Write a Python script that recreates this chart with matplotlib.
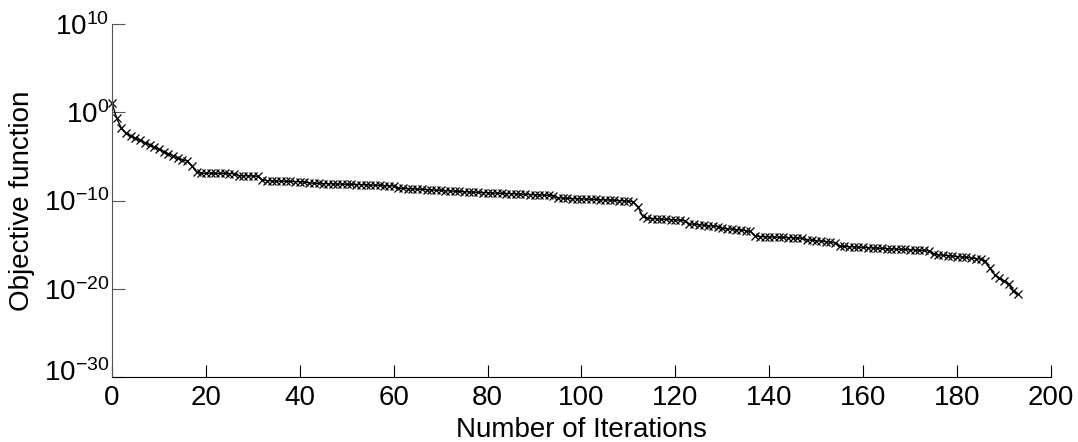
import numpy as np
import matplotlib
matplotlib.use("Agg")
import matplotlib.pyplot as plt
from matplotlib.transforms import ScaledTranslation

# log10 of the objective function, one per iteration
log_obj = [
    1.05, -0.7, -1.8, -2.4, -2.7, -2.95, -3.2, -3.45, -3.7, -3.95,
    -4.2, -4.45, -4.7, -4.95, -5.2, -5.4, -5.5, -6.05, -6.75, -6.9,
    -6.9, -6.9, -6.92, -6.93, -6.93, -6.95, -6.96, -7.18, -7.2, -7.2,
    -7.22, -7.25, -7.65, -7.75, -7.78, -7.8, -7.8, -7.82, -7.83, -7.85,
    -7.87, -7.9, -8.0, -8.05, -8.07, -8.08, -8.1, -8.11, -8.13, -8.14,
    -8.16, -8.17, -8.19, -8.2, -8.22, -8.24, -8.26, -8.28, -8.3, -8.32,
    -8.35, -8.6, -8.62, -8.65, -8.68, -8.71, -8.74, -8.77, -8.8, -8.83,
    -8.86, -8.89, -8.92, -8.95, -8.97, -9.0, -9.03, -9.06, -9.08, -9.1,
    -9.13, -9.15, -9.17, -9.19, -9.21, -9.23, -9.25, -9.27, -9.3, -9.32,
    -9.34, -9.36, -9.38, -9.41, -9.44, -9.7, -9.74, -9.76, -9.78, -9.8,
    -9.82, -9.84, -9.86, -9.88, -9.9, -9.92, -9.95, -9.98, -10.0, -10.03,
    -10.07, -10.15, -10.7, -11.75, -12.0, -12.05, -12.08, -12.1, -12.13, -12.17,
    -12.2, -12.23, -12.3, -12.65, -12.7, -12.75, -12.8, -12.85, -12.9, -12.95,
    -13.15, -13.2, -13.25, -13.3, -13.35, -13.42, -13.5, -14.0, -14.08, -14.1,
    -14.12, -14.15, -14.17, -14.19, -14.21, -14.23, -14.25, -14.28, -14.45, -14.5,
    -14.55, -14.6, -14.65, -14.72, -14.8, -15.15, -15.2, -15.23, -15.26, -15.29,
    -15.32, -15.35, -15.38, -15.4, -15.43, -15.46, -15.48, -15.5, -15.52, -15.55,
    -15.58, -15.6, -15.63, -15.66, -15.7, -16.1, -16.15, -16.2, -16.25, -16.3,
    -16.35, -16.4, -16.45, -16.5, -16.58, -16.66, -16.9, -17.7, -18.4, -18.8,
    -19.1, -19.5, -20.2, -20.6,
]
iterations = list(range(len(log_obj)))
x_ticks = [0, 20, 40, 60, 80, 100, 120, 140, 160, 180, 200]
y_ticks = [1e-30, 1e-20, 1e-10, 1e0, 1e10]

plt.rcParams['font.family'] = ['Liberation Sans', 'DejaVu Sans']
plt.rcParams['mathtext.fontset'] = 'custom'
plt.rcParams['mathtext.rm'] = 'Liberation Sans'
plt.rcParams['mathtext.it'] = 'Liberation Sans'

fig = plt.figure(figsize=(10.78, 4.42), dpi=100)
ax = fig.add_axes([0.1039, 0.147, 0.871, 0.7987])

obj = 10.0 ** np.array(log_obj)
ax.semilogy(iterations, obj, color='black', linewidth=1.0, marker='x',
            markersize=6, markeredgewidth=0.9, clip_on=False)

ax.set_xlim(0, 200)
ax.set_ylim(1e-30, 1e10)
ax.set_xticks(x_ticks)
ax.set_yticks(y_ticks)
ax.yaxis.set_minor_locator(matplotlib.ticker.NullLocator())

ax.spines['top'].set_visible(False)
ax.spines['right'].set_visible(False)
ax.spines['left'].set_color('#555555')
ax.spines['bottom'].set_color('black')
ax.tick_params(direction='in', length=9, width=0.8, labelsize=20)
ax.tick_params(axis='x', pad=6)
ax.tick_params(axis='y', colors='#555555', labelcolor='black', pad=2)

ax.set_xlabel('Number of Iterations', fontsize=20, labelpad=4)
ax.set_ylabel('Objective function', fontsize=20, labelpad=6)

# bottom y label sits a little higher, clear of the "0" below it
fig.canvas.draw()
low = ax.get_yticklabels()[0]
low.set_transform(low.get_transform() + ScaledTranslation(0, 7 / 100, fig.dpi_scale_trans))

fig.savefig('out.png', dpi=100)
